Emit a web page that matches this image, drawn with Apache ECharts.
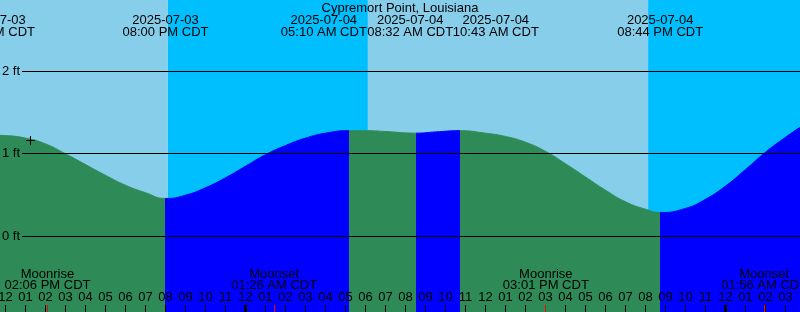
<!DOCTYPE html>
<html><head><meta charset="utf-8">
<script src="https://cdn.jsdelivr.net/npm/echarts@6/dist/echarts.min.js"></script>
<style>html,body{margin:0;padding:0;background:#fff}#c{width:800px;height:312px}</style>
</head><body><div id="c"></div>
<script>
// ---- DATA (hours counted from 2025-07-03 12:00 PM CDT) ----
const title = 'Cypremort Point, Louisiana';
const tideHours = [-0.65, 0, 1, 2, 3, 4, 5, 6, 7, 8, 9, 10, 11, 12, 13, 14, 15, 16, 17.167, 18, 19, 20.533, 21.5, 22.717, 24, 25, 26, 27, 28, 29, 30, 31, 32, 32.733, 34, 35, 36, 37, 38, 39, 39.725];
const tideFeet  = [1.225, 1.22, 1.19, 1.12, 1.00, 0.87, 0.74, 0.62, 0.53, 0.46, 0.50, 0.59, 0.71, 0.85, 0.99, 1.10, 1.19, 1.25, 1.28, 1.28, 1.27, 1.25, 1.265, 1.28, 1.25, 1.21, 1.14, 1.03, 0.88, 0.72, 0.56, 0.42, 0.33, 0.29, 0.34, 0.45, 0.61, 0.81, 1.02, 1.20, 1.32];
const eventHours = [-0.65, 8.0, 17.167, 20.533, 22.717, 32.733];   // high, low, high, low, high, low
const eventDates = ['2025-07-03', '2025-07-03', '2025-07-04', '2025-07-04', '2025-07-04', '2025-07-04'];
const eventTimes = ['11:21 AM CDT', '08:00 PM CDT', '05:10 AM CDT', '08:32 AM CDT', '10:43 AM CDT', '08:44 PM CDT'];
const sunHours = [8.12, 18.12, 32.13];          // sunset, sunrise, sunset
const moonHours = [2.1, 13.433, 27.017, 37.933];
const moonNames = ['Moonrise', 'Moonset', 'Moonrise', 'Moonset'];
const moonTimes = ['02:06 PM CDT', '01:26 AM CDT', '03:01 PM CDT', '01:56 AM CDT'];
const hourTicks = [0,1,2,3,4,5,6,7,8,9,10,11,12,13,14,15,16,17,18,19,20,21,22,23,24,25,26,27,28,29,30,31,32,33,34,35,36,37,38,39];
const hourLabels = ['12','01','02','03','04','05','06','07','08','09','10','11','12','01','02','03','04','05','06','07','08','09','10','11','12','01','02','03','04','05','06','07','08','09','10','11','12','01','02','03'];
const midnightHours = [12, 36];
const levelTicks = [0, 1, 2];
const levelLabels = ['0 ft', '1 ft', '2 ft'];
const nowMark = [1.25, 1.16];

// ---- LAYOUT / STYLE ----
const X_MIN = -0.275, X_MAX = 39.725, Y_MIN = -0.913, Y_MAX = 2.86;
const labelShiftPx = [0, 0, -25, -6, 36, 0];
const FONT = 'Liberation Sans';
const FS = 13;
const DAY = '#87CEEB', NIGHT = '#00BFFF', EBB = '#2E8B57', FLOOD = '#0000FF';

const bands = [];
{
  const edges = [X_MIN].concat(sunHours, [X_MAX]);
  for (let i = 0; i < edges.length - 1; i++) bands.push([edges[i], edges[i + 1], i % 2]);
}
const pieces = [];
{
  pieces.push({ lt: eventHours[0], color: FLOOD });
  for (let i = 0; i < eventHours.length; i++) {
    const p = { gte: eventHours[i], color: i % 2 === 0 ? EBB : FLOOD };
    if (i + 1 < eventHours.length) p.lt = eventHours[i + 1];
    pieces.push(p);
  }
}
const crisp = v => Math.round(v - 0.5) + 0.5;
const txt = (x, y, s, align) => ({
  type: 'text', style: { x, y, text: s, fill: '#000', font: FS + 'px "' + FONT + '"', align: align || 'center', verticalAlign: 'middle' }
});

const chart = echarts.init(document.getElementById('c'), null, { renderer: 'canvas' });
chart.setOption({
  animation: false,
  grid: { left: 0, right: 0, top: 0, bottom: 0 },
  xAxis: { type: 'value', min: X_MIN, max: X_MAX, show: false },
  yAxis: { type: 'value', min: Y_MIN, max: Y_MAX, show: false },
  visualMap: { type: 'piecewise', show: false, dimension: 0, seriesIndex: 1, pieces },
  series: [
    { // day / night background
      type: 'custom', z: 1, silent: true,
      data: bands,
      renderItem: (params, api) => {
        const a = api.coord([api.value(0), Y_MAX]);
        const b = api.coord([api.value(1), Y_MIN]);
        return { type: 'rect', shape: { x: a[0], y: a[1], width: b[0] - a[0], height: b[1] - a[1] },
                 style: { fill: api.value(2) === 0 ? DAY : NIGHT } };
      }
    },
    { // tide curve
      type: 'line', z: 2, silent: true, smooth: true, symbol: 'none',
      data: tideHours.map((h, i) => [h, tideFeet[i]]),
      lineStyle: { width: 1 },
      areaStyle: { opacity: 1, origin: 'start' }
    },
    { // level grid lines and labels
      type: 'custom', z: 3, silent: true,
      data: levelTicks.map((v, i) => [X_MIN, v, i]),
      renderItem: (params, api) => {
        const y = api.coord([X_MIN, api.value(1)])[1];
        const yy = crisp(y);
        return { type: 'group', children: [
          { type: 'line', shape: { x1: 22, y1: yy, x2: 800, y2: yy }, style: { stroke: '#000', lineWidth: 1 } },
          txt(20, y, levelLabels[api.value(2)], 'right')
        ] };
      }
    },
    { // hour ticks and labels
      type: 'custom', z: 3, silent: true,
      data: hourTicks.map((h, i) => [h, 0, i]),
      renderItem: (params, api) => {
        const x = api.coord([api.value(0), 0])[0];
        const h = api.value(0);
        const thick = midnightHours.indexOf(h) >= 0;
        return { type: 'group', children: [
          { type: 'line', shape: { x1: x, y1: 305, x2: x, y2: 312 }, style: { stroke: '#000', lineWidth: thick ? 3 : 1 } },
          txt(x, 297, hourLabels[api.value(2)])
        ] };
      }
    },
    { // moon events
      type: 'custom', z: 4, silent: true,
      data: moonHours.map((h, i) => [h, 0, i]),
      renderItem: (params, api) => {
        const x = api.coord([api.value(0), 0])[0];
        const xx = crisp(x);
        const i = api.value(2);
        return { type: 'group', children: [
          { type: 'line', shape: { x1: xx, y1: 305, x2: xx, y2: 312 }, style: { stroke: '#FF0000', lineWidth: 1 } },
          txt(x, 274, moonNames[i]),
          txt(x, 285.5, moonTimes[i])
        ] };
      }
    },
    { // tide event labels
      type: 'custom', z: 4, silent: true,
      data: eventHours.map((h, i) => [h, 0, i]),
      renderItem: (params, api) => {
        const i = api.value(2);
        const x = api.coord([api.value(0), 0])[0] + labelShiftPx[i];
        return { type: 'group', children: [
          txt(x, 20, eventDates[i]),
          txt(x, 32, eventTimes[i])
        ] };
      }
    },
    { // current time mark
      type: 'custom', z: 4, silent: true,
      data: [nowMark],
      renderItem: (params, api) => {
        const p = api.coord([api.value(0), api.value(1)]);
        const x = crisp(p[0]), y = crisp(p[1]);
        return { type: 'group', children: [
          { type: 'line', shape: { x1: x - 4.5, y1: y, x2: x + 4.5, y2: y }, style: { stroke: '#000', lineWidth: 1 } },
          { type: 'line', shape: { x1: x, y1: y - 4.5, x2: x, y2: y + 4.5 }, style: { stroke: '#000', lineWidth: 1 } }
        ] };
      }
    }
  ],
  graphic: [
    { type: 'text', z: 10, style: { x: 400, y: 8, text: title, fill: '#000', font: FS + 'px "' + FONT + '"', align: 'center', verticalAlign: 'middle' } }
  ]
});
</script>
</body></html>
